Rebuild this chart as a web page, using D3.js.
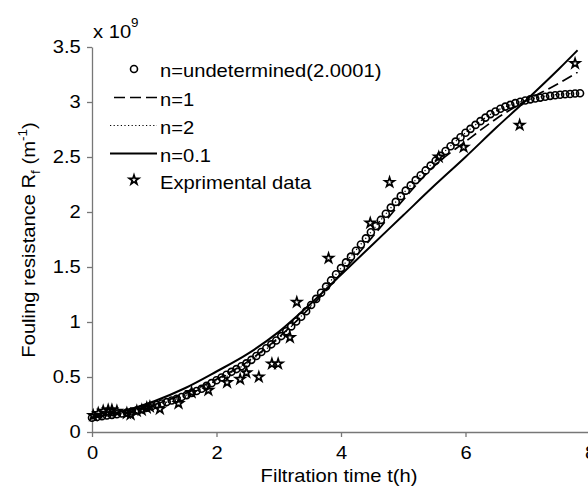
<!DOCTYPE html>
<html>
<head>
<meta charset="utf-8">
<script src="https://cdn.jsdelivr.net/npm/d3@7"></script>
<style>
  html, body { margin: 0; padding: 0; background: #fff; }
  svg { display: block; font-family: "Liberation Sans", Arial, sans-serif; }
</style>
</head>
<body>
<svg id="chart" width="588" height="487"></svg>
<script>
// ---------- data ----------
const xTicks = [0, 2, 4, 6, 8];
const yTicks = [0, 0.5, 1, 1.5, 2, 2.5, 3, 3.5];

// model n = undetermined (2.0001), drawn as circles
const circleTimes = [0, 0.08, 0.16, 0.24, 0.32, 0.40, 0.48, 0.56, 0.64, 0.72, 0.80, 0.88, 0.96, 1.04, 1.12, 1.20, 1.28, 1.36, 1.44, 1.52, 1.60, 1.68, 1.76, 1.84, 1.92, 2.00, 2.08, 2.16, 2.24, 2.32, 2.40, 2.48, 2.56, 2.64, 2.72, 2.80, 2.88, 2.96, 3.04, 3.12, 3.20, 3.28, 3.36, 3.44, 3.52, 3.60, 3.68, 3.76, 3.84, 3.92, 4.00, 4.08, 4.16, 4.24, 4.32, 4.40, 4.48, 4.56, 4.64, 4.72, 4.80, 4.88, 4.96, 5.04, 5.12, 5.20, 5.28, 5.36, 5.44, 5.52, 5.60, 5.68, 5.76, 5.84, 5.92, 6.00, 6.08, 6.16, 6.24, 6.32, 6.40, 6.48, 6.56, 6.64, 6.72, 6.80, 6.88, 6.96, 7.04, 7.12, 7.20, 7.28, 7.36, 7.44, 7.52, 7.60, 7.68, 7.76, 7.84];
const circleValues = [0.130, 0.136, 0.143, 0.150, 0.156, 0.162, 0.168, 0.177, 0.187, 0.196, 0.208, 0.221, 0.234, 0.246, 0.259, 0.272, 0.286, 0.302, 0.318, 0.335, 0.354, 0.373, 0.393, 0.419, 0.444, 0.470, 0.496, 0.521, 0.547, 0.572, 0.598, 0.624, 0.656, 0.691, 0.727, 0.762, 0.797, 0.832, 0.872, 0.916, 0.960, 1.004, 1.048, 1.098, 1.154, 1.210, 1.266, 1.322, 1.378, 1.434, 1.490, 1.542, 1.594, 1.648, 1.704, 1.760, 1.816, 1.872, 1.928, 1.984, 2.040, 2.092, 2.144, 2.194, 2.242, 2.290, 2.334, 2.378, 2.422, 2.466, 2.510, 2.554, 2.598, 2.640, 2.680, 2.720, 2.756, 2.792, 2.826, 2.858, 2.890, 2.914, 2.938, 2.958, 2.974, 2.990, 3.002, 3.014, 3.024, 3.032, 3.040, 3.048, 3.056, 3.062, 3.066, 3.070, 3.073, 3.077, 3.080];

// model lines
const lineTimes  = [0, 0.5, 1.0, 1.5, 2.0, 2.5, 3.0, 3.5, 4.0, 4.5, 5.0, 5.5, 6.0, 6.5, 7.0, 7.5, 7.8];
const n1Values   = [0.13, 0.17, 0.25, 0.35, 0.48, 0.64, 0.86, 1.13, 1.44, 1.77, 2.11, 2.42, 2.64, 2.85, 3.02, 3.17, 3.27];
const n2Values   = [0.13, 0.17, 0.24, 0.33, 0.47, 0.63, 0.85, 1.14, 1.49, 1.83, 2.17, 2.46, 2.72, 2.92, 3.02, 3.07, 3.08];
const n01Values  = [0.13, 0.19, 0.28, 0.40, 0.55, 0.71, 0.91, 1.16, 1.43, 1.70, 1.97, 2.24, 2.50, 2.77, 3.03, 3.30, 3.47];

// experimental data (stars)
const expTimes  = [0.02, 0.10, 0.18, 0.26, 0.32, 0.40, 0.56, 0.62, 0.72, 0.80, 0.88, 0.93, 1.09, 1.39, 1.60, 1.87, 2.17, 2.38, 2.48, 2.68, 2.89, 2.99, 3.18, 3.29, 3.80, 4.47, 4.78, 5.57, 5.97, 6.87, 7.76];
const expValues = [0.15, 0.17, 0.19, 0.20, 0.20, 0.19, 0.17, 0.16, 0.19, 0.20, 0.22, 0.23, 0.21, 0.26, 0.36, 0.38, 0.45, 0.48, 0.54, 0.50, 0.62, 0.62, 0.86, 1.18, 1.58, 1.90, 2.27, 2.50, 2.59, 2.79, 3.35];

const legendLabels = ["n=undetermined(2.0001)", "n=1", "n=2", "n=0.1", "Exprimental data"];

// ---------- drawing ----------
const svg = d3.select("#chart");
const FS = 18, SX = 1.12;
const x = d3.scaleLinear().domain([0, 8]).range([92, 590]);
const y = d3.scaleLinear().domain([0, 3.5]).range([432, 47]);
const axisColor = "#777";

// axes
const gx = svg.append("g").attr("transform", `translate(0,${y(0)})`)
  .call(d3.axisBottom(x).tickValues(xTicks).tickSize(5).tickSizeOuter(0).tickPadding(9).tickFormat(d3.format("~g")));
const gy = svg.append("g").attr("transform", `translate(${x(0)},0)`)
  .call(d3.axisLeft(y).tickValues(yTicks).tickSize(5).tickSizeOuter(0).tickPadding(5).tickFormat(d3.format("~g")));
[gx, gy].forEach(g => {
  g.select(".domain").attr("stroke", axisColor).attr("stroke-width", 1.3);
  g.selectAll(".tick line").attr("stroke", axisColor).attr("stroke-width", 1.3);
  g.selectAll(".tick text").attr("font-size", FS).attr("fill", "#000")
    .attr("font-family", "Liberation Sans, Arial, sans-serif")
    .attr("transform", `scale(${SX},1)`);
});

// line generators
const lineGen = vals => d3.line()
  .x((d, i) => x(lineTimes[i]))
  .y((d, i) => y(vals[i]))
  .curve(d3.curveMonotoneX)(vals);

const plot = svg.append("g");
plot.append("path").attr("d", lineGen(n2Values)).attr("fill", "none")
  .attr("stroke", "#000").attr("stroke-width", 1.2).attr("stroke-dasharray", "1.2,2.4");
plot.append("path").attr("d", lineGen(n1Values)).attr("fill", "none")
  .attr("stroke", "#000").attr("stroke-width", 1.7).attr("stroke-dasharray", "11,5");
plot.append("path").attr("d", lineGen(n01Values)).attr("fill", "none")
  .attr("stroke", "#000").attr("stroke-width", 2);

// circles
plot.append("g").selectAll("circle").data(circleValues).join("circle")
  .attr("cx", (d, i) => x(circleTimes[i]))
  .attr("cy", d => y(d))
  .attr("r", 3.5)
  .attr("fill", "none").attr("stroke", "#000").attr("stroke-width", 1.6);

// stars
const star = d3.symbol().type(d3.symbolStar).size(28);
plot.append("g").selectAll("path").data(expValues).join("path")
  .attr("d", star)
  .attr("transform", (d, i) => `translate(${x(expTimes[i])},${y(d)})`)
  .attr("fill", "none").attr("stroke", "#000").attr("stroke-width", 1.7);

// exponent label
const expo = svg.append("text").attr("transform", `translate(93,38) scale(${SX},1)`)
  .attr("font-size", FS).attr("fill", "#000");
expo.append("tspan").text("x 10");
expo.append("tspan").attr("font-size", 12).attr("dy", -11).text("9");

// axis titles
svg.append("text")
  .attr("transform", `translate(339,482) scale(${SX},1)`)
  .attr("text-anchor", "middle").attr("font-size", FS).attr("fill", "#000")
  .text("Filtration time t(h)");

const yt = svg.append("text")
  .attr("transform", `translate(35,240) rotate(-90) scale(${SX},1)`)
  .attr("text-anchor", "middle").attr("font-size", FS).attr("fill", "#000");
yt.append("tspan").text("Fouling resistance R");
yt.append("tspan").attr("font-size", 12).attr("dy", 5).text("f");
yt.append("tspan").attr("dy", -5).text(" (m");
yt.append("tspan").attr("font-size", 12).attr("dy", -8).text("-1");
yt.append("tspan").attr("dy", 8).text(")");

// legend
const legY = [77, 105.5, 133.5, 161.5, 189];
const leg = svg.append("g");
legendLabels.forEach((lab, i) => {
  leg.append("text").attr("transform", `translate(160,${legY[i]}) scale(${SX},1)`)
    .attr("font-size", FS).attr("fill", "#000").text(lab);
});
const my = i => legY[i] - 8;
leg.append("circle").attr("cx", 134).attr("cy", my(0)).attr("r", 3.5)
  .attr("fill", "none").attr("stroke", "#000").attr("stroke-width", 1.6);
leg.append("line").attr("x1", 114).attr("x2", 157).attr("y1", my(1)).attr("y2", my(1))
  .attr("stroke", "#000").attr("stroke-width", 1.7).attr("stroke-dasharray", "11,5");
leg.append("line").attr("x1", 110).attr("x2", 157).attr("y1", my(2)).attr("y2", my(2))
  .attr("stroke", "#000").attr("stroke-width", 1.2).attr("stroke-dasharray", "1.2,2.4");
leg.append("line").attr("x1", 110).attr("x2", 157).attr("y1", my(3)).attr("y2", my(3))
  .attr("stroke", "#000").attr("stroke-width", 2);
leg.append("path").attr("d", star).attr("transform", `translate(134,${my(4) - 1})`)
  .attr("fill", "none").attr("stroke", "#000").attr("stroke-width", 1.7);
</script>
</body>
</html>
